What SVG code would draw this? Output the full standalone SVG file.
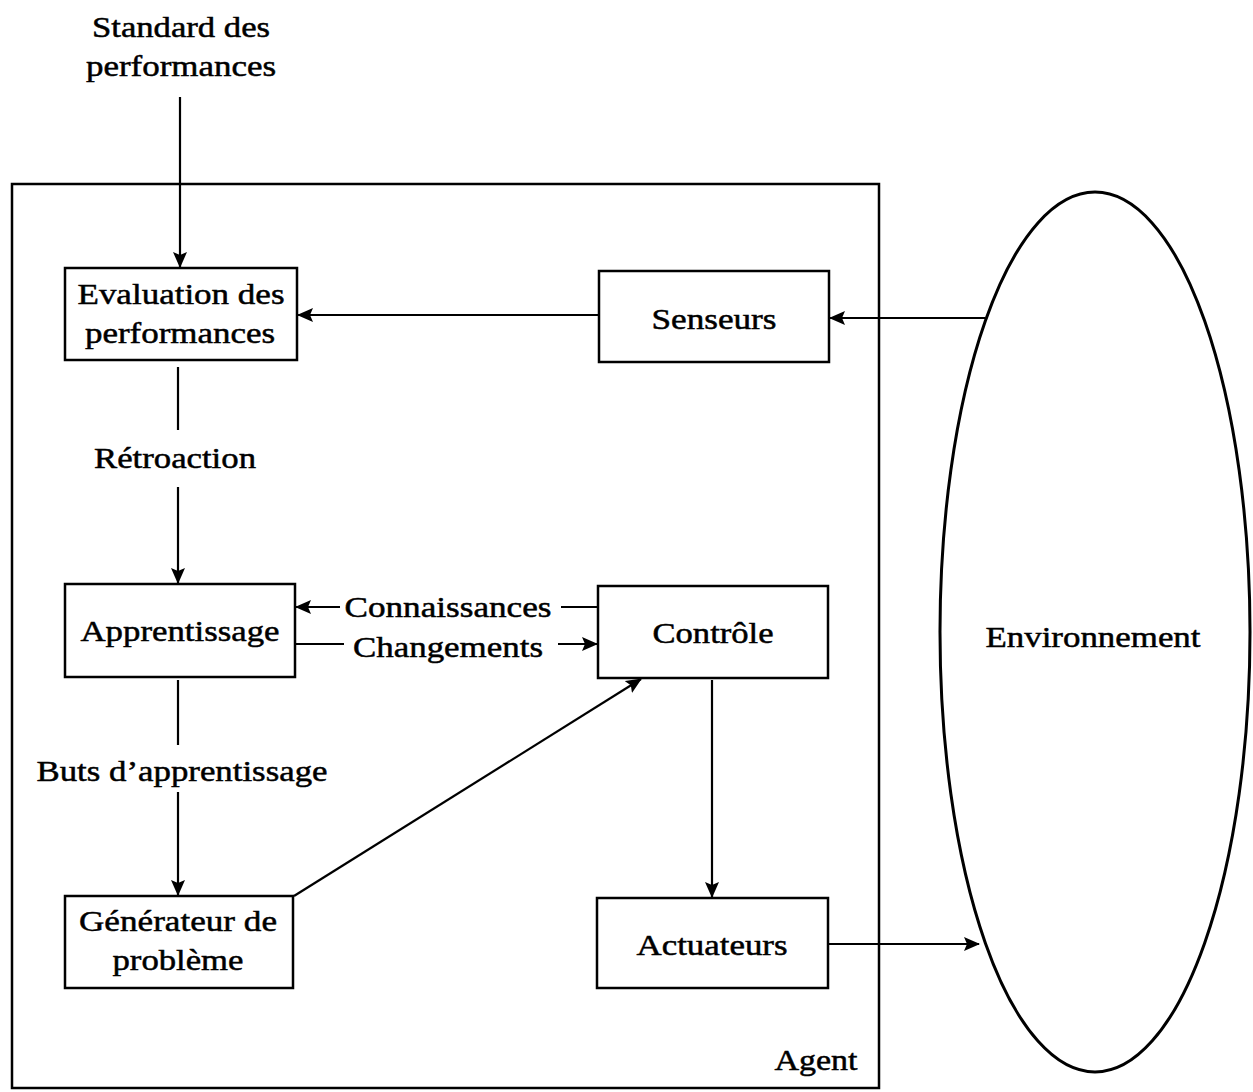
<svg xmlns="http://www.w3.org/2000/svg" width="1253" height="1092" viewBox="0 0 1253 1092">
  <style>
    .box { fill: #fff; stroke: #000; stroke-width: 2.5; }
    .frame { fill: none; stroke: #000; stroke-width: 2.5; }
    .ln { fill: none; stroke: #000; stroke-width: 2.2; }
    text { font-family: "Liberation Serif", "Times New Roman", "DejaVu Serif", serif; font-size: 30px; fill: #000; stroke: #000; stroke-width: 0.5; text-anchor: middle; }
  </style>
  <defs>
    <marker id="ah" markerWidth="16" markerHeight="14" refX="15" refY="7" orient="auto" markerUnits="userSpaceOnUse">
      <path d="M0,0 L16,7 L0,14 L3,7 z" fill="#000"/>
    </marker>
  </defs>

  <!-- agent frame -->
  <g id="agent">
    <rect class="frame" x="12" y="184" width="867" height="904"/>
    <text x="816" y="1070" textLength="83" lengthAdjust="spacingAndGlyphs">Agent</text>
  </g>

  <!-- environment -->
  <g id="environnement">
    <ellipse cx="1095" cy="632" rx="155" ry="440" fill="none" stroke="#000" stroke-width="3"/>
    <text x="1093" y="647" textLength="215" lengthAdjust="spacingAndGlyphs">Environnement</text>
  </g>

  <g id="standard">
    <text x="181" y="37" textLength="178" lengthAdjust="spacingAndGlyphs">Standard des</text>
    <text x="181" y="76" textLength="190" lengthAdjust="spacingAndGlyphs">performances</text>
  </g>

  <g id="evaluation">
    <rect class="box" x="65" y="268" width="232" height="92"/>
    <text x="181" y="304" textLength="207" lengthAdjust="spacingAndGlyphs">Evaluation des</text>
    <text x="180" y="343" textLength="190" lengthAdjust="spacingAndGlyphs">performances</text>
  </g>

  <g id="senseurs">
    <rect class="box" x="599" y="271" width="230" height="91"/>
    <text x="714" y="329" textLength="125" lengthAdjust="spacingAndGlyphs">Senseurs</text>
  </g>

  <g id="apprentissage">
    <rect class="box" x="65" y="584" width="230" height="93"/>
    <text x="180" y="641" textLength="199" lengthAdjust="spacingAndGlyphs">Apprentissage</text>
  </g>

  <g id="controle">
    <rect class="box" x="598" y="586" width="230" height="92"/>
    <text x="713" y="643" textLength="121" lengthAdjust="spacingAndGlyphs">Contrôle</text>
  </g>

  <g id="generateur">
    <rect class="box" x="65" y="896" width="228" height="92"/>
    <text x="178" y="931" textLength="198" lengthAdjust="spacingAndGlyphs">Générateur de</text>
    <text x="178" y="970" textLength="131" lengthAdjust="spacingAndGlyphs">problème</text>
  </g>

  <g id="actuateurs">
    <rect class="box" x="597" y="898" width="231" height="90"/>
    <text x="712" y="955" textLength="151" lengthAdjust="spacingAndGlyphs">Actuateurs</text>
  </g>

  <!-- connectors and their labels -->
  <g id="connectors">
    <line class="ln" x1="180" y1="97" x2="180" y2="267" marker-end="url(#ah)"/>
    <line class="ln" x1="599" y1="315" x2="298" y2="315" marker-end="url(#ah)"/>
    <line class="ln" x1="985" y1="318" x2="830" y2="318" marker-end="url(#ah)"/>

    <line class="ln" x1="178" y1="367" x2="178" y2="430"/>
    <text x="175" y="468" textLength="162" lengthAdjust="spacingAndGlyphs">Rétroaction</text>
    <line class="ln" x1="178" y1="487" x2="178" y2="583" marker-end="url(#ah)"/>

    <line class="ln" x1="598" y1="607" x2="561" y2="607"/>
    <text x="448" y="617" textLength="207" lengthAdjust="spacingAndGlyphs">Connaissances</text>
    <line class="ln" x1="340" y1="607" x2="296" y2="607" marker-end="url(#ah)"/>

    <line class="ln" x1="296" y1="644" x2="344" y2="644"/>
    <text x="448" y="657" textLength="190" lengthAdjust="spacingAndGlyphs">Changements</text>
    <line class="ln" x1="558" y1="644" x2="597" y2="644" marker-end="url(#ah)"/>

    <line class="ln" x1="178" y1="680" x2="178" y2="745"/>
    <text x="182" y="781" textLength="291" lengthAdjust="spacingAndGlyphs">Buts d’apprentissage</text>
    <line class="ln" x1="178" y1="792" x2="178" y2="895" marker-end="url(#ah)"/>

    <line class="ln" x1="294" y1="896" x2="641" y2="679" marker-end="url(#ah)"/>
    <line class="ln" x1="712" y1="680" x2="712" y2="897" marker-end="url(#ah)"/>
    <line class="ln" x1="828" y1="944" x2="979" y2="944" marker-end="url(#ah)"/>
  </g>
</svg>
